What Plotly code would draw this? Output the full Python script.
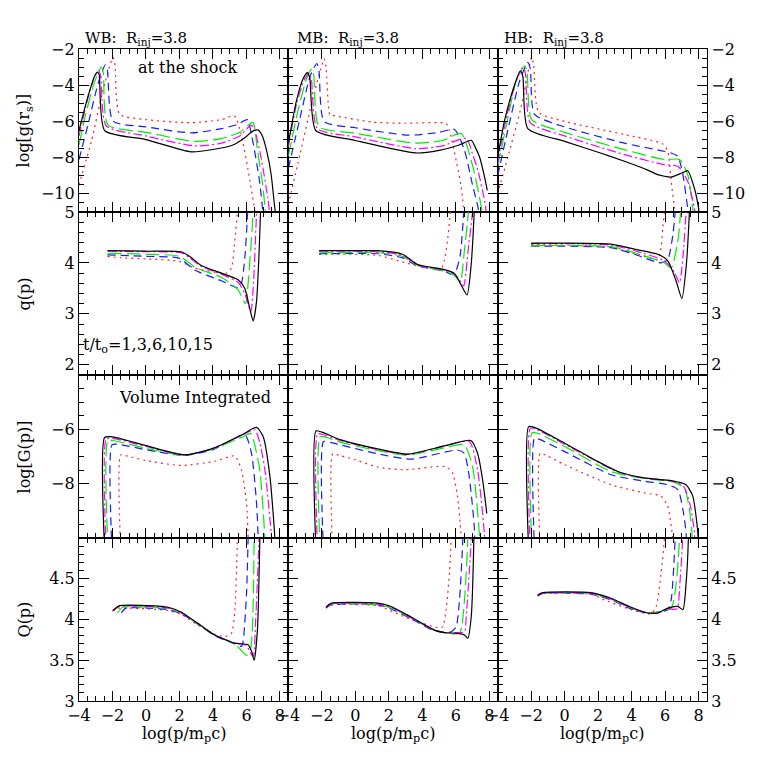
import plotly.graph_objects as go
from plotly.subplots import make_subplots

# time labels t/t0 and line styles for each curve
times = ["1", "3", "6", "10", "15"]

# ---- row 1: log g(r_s) at the shock ----
g_wb_t1 = [(-4, -9.5), (-3.26, -7.1), (-2.6, -4.4), (-1.97, -2.46), (-1.85, -2.9), (-1.57, -5.6), (0, -5.9), (2.7, -6.07), (4.5, -5.9), (5.28, -5.7), (5.68, -6.7), (6.08, -8.6), (6.48, -10.8), (6.55, -11.2)]
g_wb_t3 = [(-4, -8.1), (-3.46, -6.17), (-2.87, -3.94), (-2.43, -2.87), (-2.3, -3.2), (-1.97, -5.98), (0, -6.3), (2.7, -6.63), (4.5, -6.4), (5.5, -6.15), (6.04, -5.9), (6.38, -7.1), (6.78, -9.3), (7.0, -11.2)]
g_wb_t6 = [(-4, -7.3), (-3.6, -5.6), (-3.1, -3.9), (-2.67, -3.0), (-2.55, -3.3), (-2.27, -6.2), (0, -6.6), (2.9, -7.1), (4.5, -6.95), (5.6, -6.6), (6.38, -6.05), (6.64, -7.5), (6.97, -9.5), (7.15, -11.2)]
g_wb_t10 = [(-4, -6.8), (-3.55, -5.0), (-3.1, -3.6), (-2.83, -3.2), (-2.7, -3.5), (-2.37, -6.25), (0, -6.8), (2.9, -7.35), (4.5, -7.2), (5.6, -6.8), (6.28, -6.2), (6.5, -6.5), (6.87, -8.0), (7.27, -10.2), (7.4, -11.2)]
g_wb_t15 = [(-4, -6.5), (-3.46, -4.6), (-3.07, -3.5), (-2.9, -3.28), (-2.8, -3.4), (-2.47, -6.5), (0, -7.0), (2.7, -7.68), (4.0, -7.55), (5.2, -7.3), (5.9, -6.9), (6.4, -6.52), (6.7, -6.48), (6.95, -6.8), (7.2, -7.6), (7.47, -8.9), (7.67, -10.6), (7.75, -11.2)]

g_mb_t1 = [(-4, -10.6), (-3.3, -7.8), (-2.5, -4.6), (-1.86, -2.55), (-1.75, -3.0), (-1.52, -5.65), (-1.36, -5.67), (1.03, -6.04), (3.0, -6.1), (5.42, -6.12), (5.62, -6.5), (6.02, -8.15), (6.32, -9.6), (6.5, -11.2)]
g_mb_t3 = [(-4, -8.6), (-3.3, -5.8), (-2.7, -3.5), (-2.3, -2.8), (-2.17, -3.2), (-1.86, -6.0), (0, -6.35), (3.2, -6.76), (5.0, -6.6), (5.92, -6.44), (6.52, -7.6), (7.02, -9.6), (7.32, -10.7), (7.4, -11.2)]
g_mb_t6 = [(-4, -7.9), (-3.4, -5.3), (-2.9, -3.6), (-2.6, -3.1), (-2.48, -3.45), (-2.16, -6.3), (0, -6.65), (3.6, -7.2), (5.2, -7.05), (6.32, -6.67), (7.02, -8.5), (7.52, -10.7), (7.6, -11.2)]
g_mb_t10 = [(-4, -7.4), (-3.5, -5.0), (-3.05, -3.7), (-2.76, -3.33), (-2.62, -3.7), (-2.26, -6.4), (0, -6.85), (3.6, -7.5), (5.2, -7.35), (6.62, -6.94), (7.0, -7.8), (7.32, -8.7), (7.72, -10.37), (7.85, -11.2)]
g_mb_t15 = [(-4, -7.2), (-3.5, -4.8), (-3.1, -3.6), (-2.86, -3.3), (-2.72, -3.6), (-2.36, -6.5), (0, -7.05), (3.6, -7.74), (5.0, -7.6), (6.2, -7.3), (6.92, -7.04), (7.2, -7.5), (7.42, -7.96), (7.72, -9.07), (7.88, -9.8)]

g_hb_t1 = [(-4, -10.0), (-3.4, -8.0), (-2.6, -5.2), (-1.97, -2.46), (-1.85, -2.9), (-1.55, -5.5), (0, -6.0), (3.57, -6.72), (5.86, -7.24), (6.16, -7.65), (6.36, -9.3), (6.56, -10.8), (6.6, -11.2)]
g_hb_t3 = [(-4, -9.0), (-3.4, -6.5), (-2.7, -3.8), (-2.2, -2.74), (-2.05, -3.1), (-1.8, -5.6), (0, -6.3), (3.57, -7.2), (6.36, -7.74), (6.76, -7.93), (7.06, -8.94), (7.35, -10.8), (7.42, -11.2)]
g_hb_t6 = [(-4, -8.5), (-3.5, -6.3), (-2.9, -3.8), (-2.4, -2.93), (-2.25, -3.2), (-1.97, -5.9), (0, -6.6), (3.57, -7.56), (5.96, -8.1), (6.86, -8.1), (7.35, -8.94), (7.65, -10.8), (7.7, -11.2)]
g_hb_t10 = [(-4, -8.3), (-3.6, -6.3), (-2.95, -3.9), (-2.5, -3.0), (-2.35, -3.3), (-2.05, -6.07), (0, -6.8), (3.57, -7.83), (5.96, -8.39), (6.76, -8.48), (7.35, -9.3), (7.75, -10.8), (7.8, -11.2)]
g_hb_t15 = [(-4, -8.0), (-3.6, -6.0), (-3.0, -4.0), (-2.65, -3.2), (-2.5, -3.5), (-2.2, -6.39), (0, -7.1), (2.0, -7.7), (3.57, -8.2), (5.0, -8.7), (5.56, -8.94), (6.36, -9.07), (7.0, -8.85), (7.35, -8.72), (7.75, -9.7), (8.0, -10.8), (8.05, -11.2)]

# ---- row 2: q(p) at the shock ----
q_wb_t1 = [(-2.3, 4.13), (-1.47, 4.1), (0, 4.08), (2.0, 4.03), (2.9, 3.9), (4.8, 3.8), (5.1, 3.9), (5.3, 4.42), (5.46, 5.0), (5.5, 5.5)]
q_wb_t3 = [(-2.3, 4.16), (0, 4.13), (2.0, 4.09), (2.9, 3.86), (4.5, 3.65), (5.5, 3.51), (5.7, 3.6), (5.9, 4.09), (6.06, 4.95), (6.1, 5.5)]
q_wb_t6 = [(-2.3, 4.19), (0, 4.17), (2.0, 4.13), (3.0, 3.9), (4.5, 3.72), (5.5, 3.47), (5.94, 3.2), (6.1, 3.6), (6.4, 5.0), (6.45, 5.5)]
q_wb_t10 = [(-2.3, 4.23), (0, 4.22), (2.1, 4.2), (2.6, 4.1), (3.3, 3.93), (4.5, 3.78), (5.5, 3.62), (5.9, 3.4), (6.26, 3.04), (6.42, 3.6), (6.6, 5.0), (6.65, 5.5)]
q_wb_t15 = [(-2.3, 4.24), (0, 4.23), (2.1, 4.22), (2.6, 4.13), (3.3, 3.95), (4.5, 3.8), (5.5, 3.67), (5.9, 3.5), (6.2, 3.1), (6.4, 2.86), (6.6, 3.24), (6.74, 4.1), (6.84, 5.0), (6.9, 5.5)]

q_mb_t1 = [(-2.16, 4.17), (1.33, 4.15), (3.0, 4.0), (4.5, 3.9), (5.1, 3.87), (5.31, 4.04), (5.5, 4.43), (5.67, 5.0), (5.7, 5.5)]
q_mb_t3 = [(-2.16, 4.18), (1.33, 4.18), (2.82, 4.1), (3.72, 3.94), (5.31, 3.84), (5.7, 3.78), (6.0, 3.84), (6.27, 4.17), (6.47, 5.0), (6.5, 5.5)]
q_mb_t6 = [(-2.16, 4.2), (1.33, 4.2), (2.82, 4.13), (3.72, 3.95), (5.31, 3.84), (5.9, 3.76), (6.27, 3.64), (6.5, 4.2), (6.75, 5.0), (6.8, 5.5)]
q_mb_t10 = [(-2.16, 4.23), (1.33, 4.22), (2.82, 4.15), (3.72, 3.96), (5.31, 3.86), (5.9, 3.79), (6.2, 3.68), (6.47, 3.55), (6.75, 4.3), (7.0, 5.0), (7.05, 5.5)]
q_mb_t15 = [(-2.16, 4.24), (0, 4.24), (1.33, 4.24), (2.82, 4.17), (3.72, 3.97), (5.31, 3.87), (5.9, 3.8), (6.3, 3.58), (6.67, 3.37), (6.9, 3.9), (7.1, 5.0), (7.15, 5.5)]

q_hb_t1 = [(-2.0, 4.36), (1.0, 4.34), (2.77, 4.3), (4.37, 4.17), (5.56, 4.07), (5.76, 4.3), (5.86, 4.7), (5.96, 5.0), (6.0, 5.5)]
q_hb_t3 = [(-2.0, 4.33), (2.77, 4.3), (4.17, 4.17), (5.76, 4.0), (6.16, 4.07), (6.46, 4.55), (6.6, 5.0), (6.65, 5.5)]
q_hb_t6 = [(-2.0, 4.34), (2.77, 4.32), (4.17, 4.2), (5.96, 4.0), (6.36, 3.9), (6.76, 4.43), (6.92, 5.0), (6.95, 5.5)]
q_hb_t10 = [(-2.0, 4.38), (0, 4.38), (2.77, 4.35), (4.17, 4.24), (5.96, 4.04), (6.56, 3.81), (6.86, 3.61), (7.06, 4.1), (7.25, 5.0), (7.3, 5.5)]
q_hb_t15 = [(-2.0, 4.39), (0, 4.39), (2.77, 4.37), (4.17, 4.27), (5.56, 4.17), (6.16, 4.04), (6.66, 3.64), (7.0, 3.3), (7.25, 3.9), (7.45, 5.0), (7.5, 5.5)]

# ---- row 3: log G(p), volume integrated ----
G_wb_t1 = [(-1.51, -10.5), (-1.51, -6.94), (-1.2, -6.97), (0, -7.15), (2.1, -7.33), (4.1, -7.18), (5.3, -6.98), (5.7, -7.49), (6.0, -8.7), (6.1, -10.0), (6.12, -10.5)]
G_wb_t3 = [(-2.03, -10.5), (-2.03, -6.57), (-1.67, -6.55), (0, -6.75), (2.31, -6.96), (4.0, -6.75), (5.9, -6.2), (6.3, -6.88), (6.6, -8.7), (6.7, -10.0), (6.72, -10.5)]
G_wb_t6 = [(-2.27, -10.5), (-2.27, -6.41), (-1.9, -6.42), (0, -6.7), (2.31, -6.95), (4.0, -6.72), (5.7, -6.3), (6.26, -6.15), (6.5, -6.6), (6.8, -7.5), (7.1, -10.0), (7.12, -10.5)]
G_wb_t10 = [(-2.37, -10.5), (-2.37, -6.35), (-2.0, -6.33), (0, -6.63), (2.31, -6.94), (4.0, -6.7), (5.7, -6.22), (6.5, -6.02), (6.8, -6.5), (7.1, -7.5), (7.5, -10.0), (7.52, -10.5)]
G_wb_t15 = [(-2.47, -10.5), (-2.47, -6.3), (-2.07, -6.27), (0, -6.6), (2.31, -6.94), (4.0, -6.7), (5.7, -6.21), (6.6, -5.93), (7.0, -6.27), (7.4, -7.73), (7.69, -9.96), (7.7, -10.5)]

G_mb_t1 = [(-1.35, -10.5), (-1.35, -6.9), (-1.0, -6.95), (0, -7.12), (1.33, -7.39), (2.92, -7.49), (5.4, -7.37), (5.8, -7.6), (6.1, -8.46), (6.3, -9.8), (6.32, -10.5)]
G_mb_t3 = [(-1.9, -10.5), (-1.9, -6.45), (-1.5, -6.48), (-0.85, -6.58), (1.33, -6.9), (3.3, -7.1), (6.1, -6.76), (6.5, -6.88), (6.8, -7.73), (7.1, -9.56), (7.15, -10.5)]
G_mb_t6 = [(-2.1, -10.5), (-2.1, -6.27), (-1.7, -6.3), (-0.85, -6.48), (1.33, -6.78), (3.12, -6.95), (5.31, -6.68), (6.5, -6.57), (7.0, -7.37), (7.4, -9.8), (7.42, -10.5)]
G_mb_t10 = [(-2.25, -10.5), (-2.25, -6.17), (-1.9, -6.2), (-0.85, -6.42), (1.33, -6.74), (3.12, -6.92), (5.31, -6.62), (6.8, -6.44), (7.3, -7.5), (7.7, -9.8), (7.72, -10.5)]
G_mb_t15 = [(-2.35, -10.5), (-2.35, -6.06), (-2.0, -6.1), (-0.85, -6.39), (1.33, -6.72), (3.12, -6.91), (5.31, -6.61), (6.9, -6.41), (7.3, -6.88), (7.6, -7.85), (7.85, -9.1)]

G_hb_t1 = [(-1.47, -10.5), (-1.47, -6.88), (-1.2, -6.93), (0, -7.3), (2.77, -8.04), (4.76, -8.34), (5.76, -8.46), (6.16, -8.83), (6.36, -9.56), (6.46, -10.0), (6.48, -10.5)]
G_hb_t3 = [(-1.8, -10.5), (-1.8, -6.33), (-1.5, -6.37), (0, -6.82), (2.77, -7.67), (4.76, -7.91), (6.16, -8.04), (6.76, -8.22), (7.06, -8.95), (7.25, -9.8), (7.27, -10.5)]
G_hb_t6 = [(-1.95, -10.5), (-1.95, -6.12), (-1.6, -6.15), (0, -6.63), (2.77, -7.55), (4.76, -7.81), (6.56, -7.95), (7.15, -8.16), (7.45, -8.95), (7.6, -9.8), (7.62, -10.5)]
G_hb_t10 = [(-2.05, -10.5), (-2.05, -5.96), (-1.7, -6.0), (0, -6.55), (1.78, -7.14), (3.17, -7.56), (4.76, -7.8), (6.36, -7.9), (7.1, -8.1), (7.5, -8.8), (7.75, -9.8), (7.77, -10.5)]
G_hb_t15 = [(-2.15, -10.5), (-2.15, -5.9), (-1.8, -5.93), (0, -6.51), (1.78, -7.12), (3.17, -7.55), (4.76, -7.79), (6.36, -7.89), (7.25, -8.04), (7.65, -8.46), (7.95, -9.8), (7.97, -10.5)]

# ---- row 4: Q(p), volume integrated ----
Q_wb_t1 = [(-2.0, 4.11), (-1.6, 4.14), (0.12, 4.13), (1.32, 4.11), (2.12, 4.06), (3.11, 3.93), (4.1, 3.82), (4.7, 3.79), (5.1, 3.83), (5.3, 4.09), (5.46, 5.0), (5.5, 5.5)]
Q_wb_t3 = [(-1.47, 4.08), (-1.2, 4.14), (0.12, 4.14), (1.32, 4.12), (2.12, 4.07), (3.11, 3.94), (4.1, 3.8), (5.3, 3.7), (5.7, 3.67), (5.8, 3.73), (6.0, 4.3), (6.1, 5.0), (6.15, 5.5)]
Q_wb_t6 = [(-1.71, 4.08), (-1.4, 4.15), (0.12, 4.15), (1.32, 4.13), (2.12, 4.08), (3.11, 3.94), (4.1, 3.81), (5.3, 3.7), (5.7, 3.62), (6.0, 3.56), (6.26, 3.65), (6.46, 5.0), (6.5, 5.5)]
Q_wb_t10 = [(-2.0, 4.1), (-1.6, 4.16), (0.12, 4.16), (1.32, 4.14), (2.12, 4.08), (3.11, 3.95), (4.1, 3.81), (5.3, 3.71), (6.0, 3.68), (6.2, 3.6), (6.4, 3.55), (6.55, 4.0), (6.75, 5.0), (6.8, 5.5)]
Q_wb_t15 = [(-1.97, 4.11), (-1.57, 4.17), (0.12, 4.17), (1.32, 4.15), (2.12, 4.09), (3.11, 3.95), (4.1, 3.81), (5.3, 3.71), (6.1, 3.69), (6.3, 3.61), (6.46, 3.5), (6.66, 3.89), (6.8, 5.0), (6.85, 5.5)]

Q_mb_t1 = [(-1.75, 4.15), (-1.45, 4.18), (1.34, 4.17), (1.74, 4.14), (3.33, 4.0), (4.92, 3.9), (5.22, 3.91), (5.42, 4.12), (5.62, 4.57), (5.72, 5.0), (5.75, 5.5)]
Q_mb_t3 = [(-1.75, 4.14), (-1.45, 4.18), (1.34, 4.18), (2.14, 4.13), (3.33, 4.01), (4.73, 3.86), (5.72, 3.85), (6.02, 3.91), (6.22, 4.24), (6.42, 5.0), (6.45, 5.5)]
Q_mb_t6 = [(-1.75, 4.14), (-1.45, 4.19), (1.34, 4.18), (2.14, 4.14), (3.33, 4.02), (4.73, 3.87), (5.32, 3.84), (6.22, 3.83), (6.52, 4.24), (6.72, 5.0), (6.75, 5.5)]
Q_mb_t10 = [(-1.75, 4.14), (-1.45, 4.19), (1.34, 4.19), (2.14, 4.15), (3.33, 4.02), (4.73, 3.87), (5.32, 3.84), (6.12, 3.84), (6.52, 3.85), (6.62, 4.03), (6.92, 5.0), (6.95, 5.5)]
Q_mb_t15 = [(-1.75, 4.15), (-1.45, 4.2), (1.34, 4.2), (2.14, 4.16), (3.33, 4.03), (4.73, 3.87), (5.32, 3.84), (6.12, 3.83), (6.52, 3.81), (6.72, 3.77), (6.92, 4.03), (7.08, 5.0), (7.1, 5.5)]

Q_hb_t1 = [(-1.61, 4.3), (-1.31, 4.32), (1.58, 4.31), (2.37, 4.24), (3.97, 4.12), (5.16, 4.07), (5.46, 4.16), (5.76, 4.57), (5.96, 5.0), (6.0, 5.5)]
Q_hb_t3 = [(-1.61, 4.29), (-1.31, 4.32), (1.58, 4.31), (2.77, 4.24), (3.97, 4.13), (4.96, 4.08), (5.56, 4.09), (6.16, 4.12), (6.36, 4.24), (6.6, 5.0), (6.65, 5.5)]
Q_hb_t6 = [(-1.61, 4.29), (-1.31, 4.32), (1.58, 4.32), (2.77, 4.25), (3.97, 4.14), (4.96, 4.08), (5.56, 4.09), (6.36, 4.14), (6.66, 4.44), (6.86, 5.0), (6.9, 5.5)]
Q_hb_t10 = [(-1.61, 4.29), (-1.31, 4.32), (1.58, 4.32), (2.77, 4.25), (3.97, 4.14), (4.96, 4.08), (5.56, 4.08), (6.16, 4.13), (6.7, 4.13), (6.9, 4.5), (7.05, 5.0), (7.1, 5.5)]
Q_hb_t15 = [(-1.61, 4.3), (-1.31, 4.33), (1.58, 4.33), (2.77, 4.26), (3.97, 4.15), (4.96, 4.08), (5.56, 4.08), (6.16, 4.14), (6.76, 4.16), (7.06, 4.12), (7.25, 4.44), (7.39, 5.0), (7.42, 5.5)]

# panels: (row, col) -> curves ordered t = 1, 3, 6, 10, 15
panels = {
    (1, 1): [g_wb_t1, g_wb_t3, g_wb_t6, g_wb_t10, g_wb_t15],
    (1, 2): [g_mb_t1, g_mb_t3, g_mb_t6, g_mb_t10, g_mb_t15],
    (1, 3): [g_hb_t1, g_hb_t3, g_hb_t6, g_hb_t10, g_hb_t15],
    (2, 1): [q_wb_t1, q_wb_t3, q_wb_t6, q_wb_t10, q_wb_t15],
    (2, 2): [q_mb_t1, q_mb_t3, q_mb_t6, q_mb_t10, q_mb_t15],
    (2, 3): [q_hb_t1, q_hb_t3, q_hb_t6, q_hb_t10, q_hb_t15],
    (3, 1): [G_wb_t1, G_wb_t3, G_wb_t6, G_wb_t10, G_wb_t15],
    (3, 2): [G_mb_t1, G_mb_t3, G_mb_t6, G_mb_t10, G_mb_t15],
    (3, 3): [G_hb_t1, G_hb_t3, G_hb_t6, G_hb_t10, G_hb_t15],
    (4, 1): [Q_wb_t1, Q_wb_t3, Q_wb_t6, Q_wb_t10, Q_wb_t15],
    (4, 2): [Q_mb_t1, Q_mb_t3, Q_mb_t6, Q_mb_t10, Q_mb_t15],
    (4, 3): [Q_hb_t1, Q_hb_t3, Q_hb_t6, Q_hb_t10, Q_hb_t15],
}

colors = ["#ff2020", "#1a1aff", "#00ee00", "#ff00ff", "#000000"]
dashes = ["2px,4px", "8px,5px", "14px,5px", "9px,3px,2px,3px", "solid"]

# y axis setup per row: range, tick values, tick text, minor step
y_ranges = [[-11, -2], [1.8, 5], [-10, -4], [3, 5]]
y_tickvals = [[-2, -4, -6, -8, -10], [2, 3, 4, 5], [-4, -6, -8, -10], [3, 3.5, 4, 4.5, 5]]
y_ticktext = [["−2", "−4", "−6", "−8", "−10"], ["2", "3", "4", "5"], ["", "−6", "−8", ""], ["3", "3.5", "4", "4.5", ""]]
y_minor = [0.5, 0.2, 0.5, 0.1]
y_titles = ["log[g(r<sub>s</sub>)]", "q(p)", "log[G(p)]", "Q(p)"]

col_titles = ["WB:  R<sub>inj</sub>=3.8", "MB:  R<sub>inj</sub>=3.8", "HB:  R<sub>inj</sub>=3.8"]

FONT = "DejaVu Serif"

fig = make_subplots(rows=4, cols=3, horizontal_spacing=0, vertical_spacing=0)

for (r, c), curves in panels.items():
    for i, pts in enumerate(curves):
        fig.add_trace(go.Scatter(
            x=[p[0] for p in pts],
            y=[p[1] for p in pts],
            mode="lines",
            name="t/t0=" + times[i],
            line=dict(color=colors[i], width=1.2, dash=dashes[i], shape="spline", smoothing=0.6),
            showlegend=False
        ), row=r, col=c)

axis_common = dict(
    showline=True, linecolor="black", linewidth=1.2, mirror="allticks",
    ticks="inside", ticklen=10, tickwidth=1.2, tickcolor="black",
    showgrid=False, zeroline=False,
    tickfont=dict(family=FONT, size=16, color="black"),
)

for r in range(1, 5):
    for c in range(1, 4):
        fig.update_xaxes(
            range=[-4, 8.5],
            minor=dict(dtick=0.5, tick0=0, ticklen=5, tickcolor="black", tickwidth=1.2, ticks="inside"),
            showticklabels=(r == 4),
            tickvals=[-4, -2, 0, 2, 4, 6, 8],
            ticktext=["−4", "−2", "0", "2", "4", "6", "8"],
            row=r, col=c, **axis_common
        )
        fig.update_yaxes(
            range=y_ranges[r - 1],
            tickvals=y_tickvals[r - 1], ticktext=y_ticktext[r - 1],
            minor=dict(dtick=y_minor[r - 1], tick0=0, ticklen=5, tickcolor="black", tickwidth=1.2, ticks="inside"),
            showticklabels=(c != 2),
            side="right" if c == 3 else "left",
            row=r, col=c, **axis_common
        )

# annotations (paper coords relative to the plotting area)
notes = []
for i, t in enumerate(col_titles):
    notes.append(dict(x=[0.006, 0.344, 0.674][i], y=1.016, text=t, xanchor="left", yanchor="middle",
                      font=dict(family=FONT, size=15, color="black")))
    notes.append(dict(x=[1/6, 0.5, 5/6][i], y=-0.052, text="log(p/m<sub>p</sub>c)",
                      xanchor="center", yanchor="middle", font=dict(family=FONT, size=16, color="black")))
for j, t in enumerate(y_titles):
    notes.append(dict(x=-0.086, y=[0.875, 0.625, 0.375, 0.125][j], text=t, textangle=-90,
                      xanchor="center", yanchor="middle", font=dict(family=FONT, size=16, color="black")))
notes.append(dict(x=0.172, y=0.971, text="at the shock", xanchor="center", yanchor="middle",
                  font=dict(family=FONT, size=16, color="black")))
notes.append(dict(x=0.003, y=0.546, text="t/t<sub>o</sub>=1,3,6,10,15", xanchor="left", yanchor="middle",
                  font=dict(family=FONT, size=16, color="black")))
notes.append(dict(x=0.185, y=0.466, text="Volume Integrated", xanchor="center", yanchor="middle",
                  font=dict(family=FONT, size=16, color="black")))
for n in notes:
    n.update(xref="paper", yref="paper", showarrow=False)

fig.update_layout(
    width=763, height=763,
    margin=dict(l=71, r=64, t=41, b=70),
    font=dict(family=FONT, color="black"),
    paper_bgcolor="white", plot_bgcolor="white",
    annotations=notes,
    showlegend=False
)

fig.write_html("out.html")
